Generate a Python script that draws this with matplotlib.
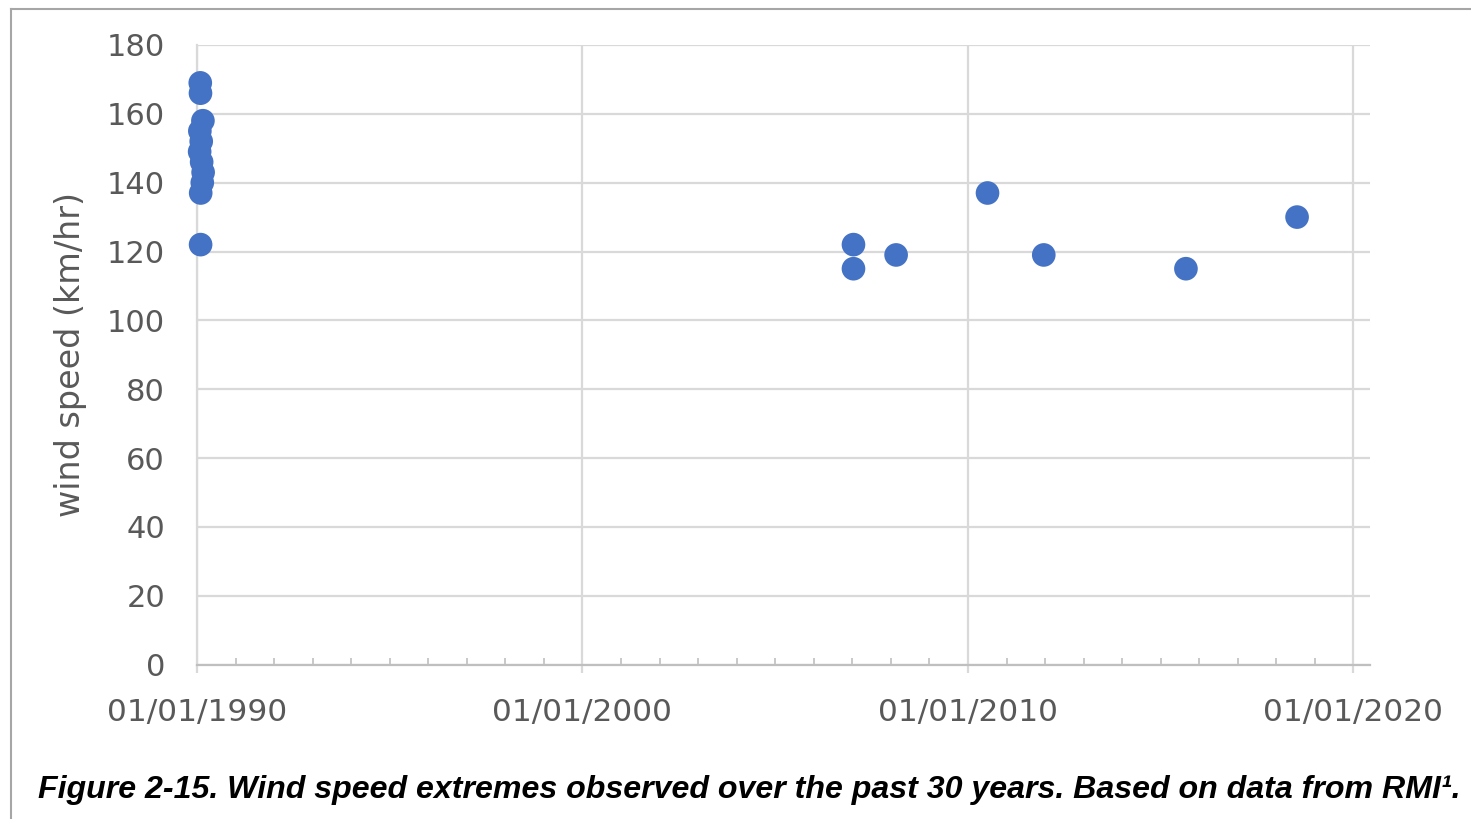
import matplotlib
matplotlib.use('Agg')
import matplotlib.pyplot as plt
import matplotlib.dates as mdates
from matplotlib.lines import Line2D
from datetime import datetime

# storm dates and peak wind speeds (km/hr)
dates = ['1990-02-01', '1990-02-03', '1990-02-26', '1990-01-28', '1990-02-10',
         '1990-01-26', '1990-02-14', '1990-02-28', '1990-02-20', '1990-02-05',
         '1990-02-04',
         '2007-01-12', '2007-01-12', '2008-02-20', '2010-07-05', '2011-12-20',
         '2015-08-28', '2018-07-16']
speeds = [169, 166, 158, 155, 152, 149, 146, 143, 140, 137,
          122,
          122, 115, 119, 137, 119,
          115, 130]

yticks = [0, 20, 40, 60, 80, 100, 120, 140, 160, 180]
xmajor_years = [1990, 2000, 2010, 2020]

caption = 'Figure 2-15. Wind speed extremes observed over the past 30 years. Based on data from RMI\u00b9.'

x = [datetime.strptime(d, '%Y-%m-%d') for d in dates]

fig = plt.figure(figsize=(14.71, 8.19), dpi=100)
ax = fig.add_axes([197 / 1471, 1 - 664.5 / 819, (1370 - 197) / 1471, (664.5 - 45) / 819])

ax.scatter(x, speeds, s=290, color='#4472C4', edgecolors='none', zorder=3, clip_on=False)

ax.set_ylim(0, 180)
ax.set_yticks(yticks)
ax.set_xlim(datetime(1990, 1, 1), datetime(2020, 6, 6))
ax.set_xticks([datetime(y, 1, 1) for y in xmajor_years])
ax.set_xticks([datetime(y, 1, 1) for y in range(1991, 2021) if y % 10 != 0], minor=True)
ax.xaxis.set_major_formatter(mdates.DateFormatter('%d/%m/%Y'))

grid_c = '#D9D9D9'
ax.grid(True, which='major', color=grid_c, linewidth=1.6, zorder=0)
ax.set_axisbelow(True)
for s in ['top', 'right']:
    ax.spines[s].set_visible(False)
ax.spines['left'].set_color(grid_c)
ax.spines['left'].set_linewidth(1.6)
ax.spines['bottom'].set_color('#BFBFBF')
ax.spines['bottom'].set_linewidth(1.6)

ax.tick_params(axis='y', length=0, pad=23, labelsize=22, labelcolor='#595959')
ax.tick_params(axis='x', which='major', direction='out', length=6, width=1.6, color=grid_c,
               pad=18, labelsize=22.5, labelcolor='#595959')
ax.tick_params(axis='x', which='minor', direction='in', length=5, width=1.2, color='#BFBFBF')

ax.set_ylabel('wind speed (km/hr)', fontsize=24, color='#595959')
ax.yaxis.set_label_coords(-110 / 1173, 0.5)

# outer frame (top and left edges of the picture)
fig.add_artist(Line2D([11 / 1471, 1], [1 - 9 / 819, 1 - 9 / 819], transform=fig.transFigure,
                      color='#A6A6A6', linewidth=1.5))
fig.add_artist(Line2D([11 / 1471, 11 / 1471], [0, 1 - 9 / 819], transform=fig.transFigure,
                      color='#A6A6A6', linewidth=1.5))

cap = fig.text(38 / 1471, 1 - 790 / 819, caption, ha='left', va='center',
               fontsize=24, style='italic', weight='bold',
               family=['Liberation Sans', 'DejaVu Sans'])
fig.canvas.draw()
w = cap.get_window_extent().width
cap.set_fontsize(24 * 1425 / w)

fig.savefig('out.png', dpi=100)
